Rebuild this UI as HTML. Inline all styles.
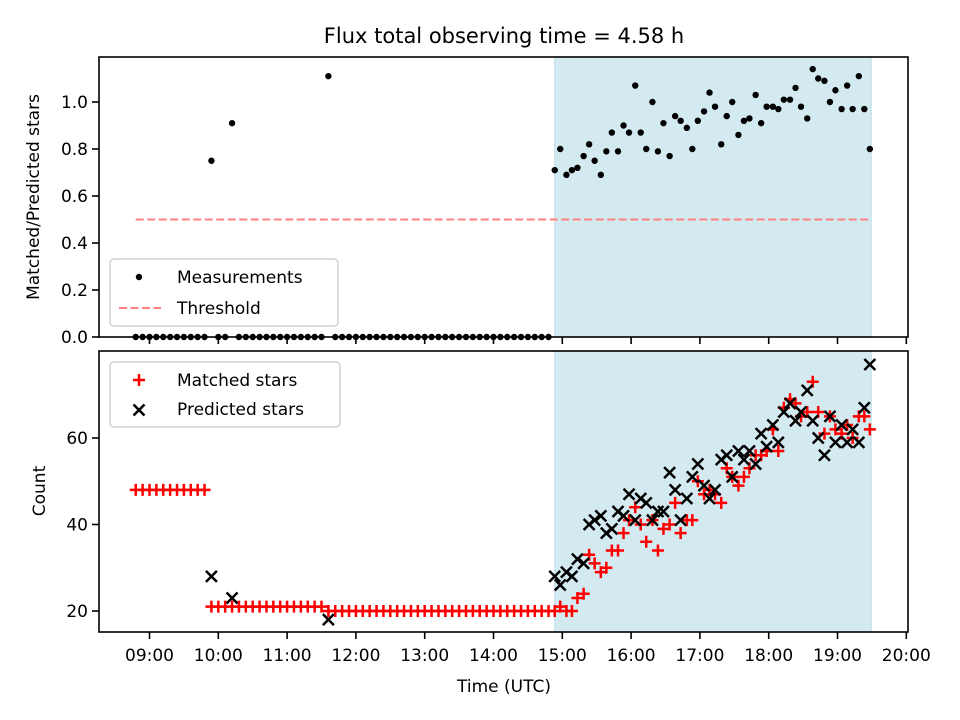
<!DOCTYPE html>
<html><head><meta charset="utf-8"><style>
html,body{margin:0;padding:0;background:#fff;}
svg{display:block;font-family:"DejaVu Sans","Liberation Sans",sans-serif;}
</style></head><body>
<svg id="chart" width="960" height="720" viewBox="0 0 960 720" xmlns="http://www.w3.org/2000/svg">
<rect width="960" height="720" fill="#fff"/>
<text x="504" y="43" font-size="21" text-anchor="middle">Flux total observing time = 4.58 h</text>
<g id="topPanel"></g>
<g id="botPanel"></g>
<text x="504" y="692" font-size="17" text-anchor="middle">Time (UTC)</text>
<text transform="translate(39,197) rotate(-90)" font-size="17" text-anchor="middle">Matched/Predicted stars</text>
<text transform="translate(45,491) rotate(-90)" font-size="17" text-anchor="middle">Count</text>
</svg>
<script>
// ---- data ----
const earlyTimes = [8.8,8.9,9.0,9.1,9.2,9.3,9.4,9.5,9.6,9.7,9.8,9.9,10.0,10.1,10.2,10.3,10.4,10.5,10.6,10.7,10.8,10.9,11.0,11.1,11.2,11.3,11.4,11.5,11.6,11.7,11.8,11.9,12.0,12.1,12.2,12.3,12.4,12.5,12.6,12.7,12.8,12.9,13.0,13.1,13.2,13.3,13.4,13.5,13.6,13.7,13.8,13.9,14.0,14.1,14.2,14.3,14.4,14.5,14.6,14.7,14.8];
const earlyMatched = [48,48,48,48,48,48,48,48,48,48,48,21,21,21,21,21,21,21,21,21,21,21,21,21,21,21,21,21,20,20,20,20,20,20,20,20,20,20,20,20,20,20,20,20,20,20,20,20,20,20,20,20,20,20,20,20,20,20,20,20,20];
const earlyPredicted = [null,null,null,null,null,null,null,null,null,null,null,28,null,null,23,null,null,null,null,null,null,null,null,null,null,null,null,null,18,null,null,null,null,null,null,null,null,null,null,null,null,null,null,null,null,null,null,null,null,null,null,null,null,null,null,null,null,null,null,null,null];
const earlyRatio = [0,0,0,0,0,0,0,0,0,0,0,0.75,0,0,0.91,0,0,0,0,0,0,0,0,0,0,0,0,0,1.11,0,0,0,0,0,0,0,0,0,0,0,0,0,0,0,0,0,0,0,0,0,0,0,0,0,0,0,0,0,0,0,0];
const lateTimes = [14.89,14.97,15.06,15.14,15.22,15.31,15.39,15.47,15.56,15.64,15.72,15.81,15.89,15.97,16.06,16.14,16.22,16.31,16.39,16.47,16.56,16.64,16.72,16.81,16.89,16.97,17.06,17.14,17.22,17.31,17.39,17.47,17.56,17.64,17.72,17.81,17.89,17.97,18.06,18.14,18.22,18.31,18.39,18.47,18.56,18.64,18.72,18.81,18.89,18.97,19.06,19.14,19.22,19.31,19.39,19.47];
const lateRatio = [0.71,0.80,0.69,0.71,0.72,0.77,0.82,0.75,0.69,0.79,0.87,0.79,0.90,0.87,1.07,0.87,0.80,1.00,0.79,0.91,0.77,0.94,0.92,0.89,0.80,0.92,0.96,1.04,0.98,0.82,0.94,1.00,0.86,0.92,0.93,1.03,0.91,0.98,0.98,0.97,1.01,1.01,1.06,0.98,0.93,1.14,1.10,1.09,1.00,1.05,0.97,1.07,0.97,1.11,0.97,0.80];
const latePredicted = [28,26,29,28,32,31,40,41,42,38,39,43,42,47,41,46,45,41,43,43,52,48,41,46,51,54,49,46,48,55,56,51,57,55,57,54,61,58,63,59,66,68,64,66,71,64,60,56,65,59,63,59,62,59,67,77];
const lateMatched = [20,21,20,20,23,24,33,31,29,30,34,34,38,41,44,40,36,41,34,39,40,45,38,41,41,50,47,48,47,45,53,51,49,51,53,56,56,57,62,57,67,69,68,65,66,73,66,61,65,62,61,63,60,65,65,62];
const threshold = 0.5;
const shadeStart = 14.89, shadeEnd = 19.49;
const xTickLabels = ["09:00","10:00","11:00","12:00","13:00","14:00","15:00","16:00","17:00","18:00","19:00","20:00"];
const ratioTicks = [0,0.2,0.4,0.6,0.8,1.0];
const countTicks = [20,40,60];

// ---- layout ----
const L=99,R=908, T1=57,B1=337, T2=351,B2=632;
const NS="http://www.w3.org/2000/svg";
const xS = h => 149.5 + (h-9)*68.8;
const yR = v => 337 - v*235;
const yC = v => 611 - (v-20)*4.325;
function mk(parent,tag,attrs){const e=document.createElementNS(NS,tag);for(const k in attrs)e.setAttribute(k,attrs[k]);parent.appendChild(e);return e;}
const gTop=document.getElementById('topPanel'), gBot=document.getElementById('botPanel');

function panel(g,T,B){
  const s=mk(g,'rect',{x:xS(shadeStart),y:T,width:xS(shadeEnd)-xS(shadeStart),height:B-T,fill:'#d4eaf1',stroke:'#bcdde8','stroke-width':1});
  
  
}
panel(gTop,T1,B1); panel(gBot,T2,B2);

const th=mk(gTop,'line',{x1:xS(8.8),x2:xS(19.49),y1:yR(threshold),y2:yR(threshold),stroke:'#ff8080','stroke-width':2,'stroke-dasharray':'8,3.5'});



const allT=earlyTimes.concat(lateTimes), allR=earlyRatio.concat(lateRatio);
allT.forEach((t,i)=>{
  const c=mk(gTop,'circle',{cx:xS(t),cy:yR(allR[i]),r:3.2,fill:'#000'});
  
  
});

function plus(g,x,y){const p=mk(g,'path',{d:`M${x-6},${y}H${x+6}M${x},${y-6}V${y+6}`,stroke:'#f00','stroke-width':2.5,fill:'none'});
  
  }
function cross(g,x,y){const p=mk(g,'path',{d:`M${x-5.5},${y-5.5}L${x+5.5},${y+5.5}M${x-5.5},${y+5.5}L${x+5.5},${y-5.5}`,stroke:'#000','stroke-width':2.5,fill:'none'});
  
  }
const allM=earlyMatched.concat(lateMatched), allP=earlyPredicted.concat(latePredicted);
allT.forEach((t,i)=>plus(gBot,xS(t),yC(allM[i])));
allT.forEach((t,i)=>{if(allP[i]!==null)cross(gBot,xS(t),yC(allP[i]));});

function frame(g,T,B,name){const f=mk(g,'rect',{x:L,y:T,width:R-L,height:B-T,fill:'none',stroke:'#000','stroke-width':1.6});
  
  }
frame(gTop,T1,B1,'ratio-axes-frame'); frame(gBot,T2,B2,'count-axes-frame');
xTickLabels.forEach((lab,i)=>{
  const x=xS(9+i);
  mk(gTop,'line',{x1:x,x2:x,y1:B1,y2:B1+7,stroke:'#000','stroke-width':1.6});
  mk(gBot,'line',{x1:x,x2:x,y1:B2,y2:B2+7,stroke:'#000','stroke-width':1.6});
  const t=mk(gBot,'text',{x:x,y:B2+29,'font-size':17,'text-anchor':'middle'});t.textContent=lab;
  
  
});
ratioTicks.forEach(v=>{
  const y=yR(v);
  mk(gTop,'line',{x1:L-7,x2:L,y1:y,y2:y,stroke:'#000','stroke-width':1.6});
  const t=mk(gTop,'text',{x:L-11,y:y+6,'font-size':17,'text-anchor':'end'});t.textContent=v.toFixed(1);
  
  
});
countTicks.forEach(v=>{
  const y=yC(v);
  mk(gBot,'line',{x1:L-7,x2:L,y1:y,y2:y,stroke:'#000','stroke-width':1.6});
  const t=mk(gBot,'text',{x:L-11,y:y+6,'font-size':17,'text-anchor':'end'});t.textContent=String(v);
  
  
});

const lg1=mk(gTop,'g',{});


mk(lg1,'rect',{x:110,y:259,width:228,height:67,rx:4,fill:'#fff','fill-opacity':0.8,stroke:'#d0d0d0','stroke-width':1.5});
mk(lg1,'circle',{cx:139,cy:277,r:3.2,fill:'#000'});
mk(lg1,'line',{x1:119,x2:161,y1:308,y2:308,stroke:'#ff8080','stroke-width':2,'stroke-dasharray':'8,3.5'});
let tx=mk(lg1,'text',{x:177,y:283,'font-size':17});tx.textContent='Measurements';


tx=mk(lg1,'text',{x:177,y:314,'font-size':17});tx.textContent='Threshold';



const lg2=mk(gBot,'g',{});


mk(lg2,'rect',{x:110,y:362,width:230,height:65,rx:4,fill:'#fff','fill-opacity':0.8,stroke:'#d0d0d0','stroke-width':1.5});
plus(lg2,139,380); cross(lg2,139,410);
tx=mk(lg2,'text',{x:177,y:386,'font-size':17});tx.textContent='Matched stars';


tx=mk(lg2,'text',{x:177,y:415,'font-size':17});tx.textContent='Predicted stars';


</script>
</body></html>
